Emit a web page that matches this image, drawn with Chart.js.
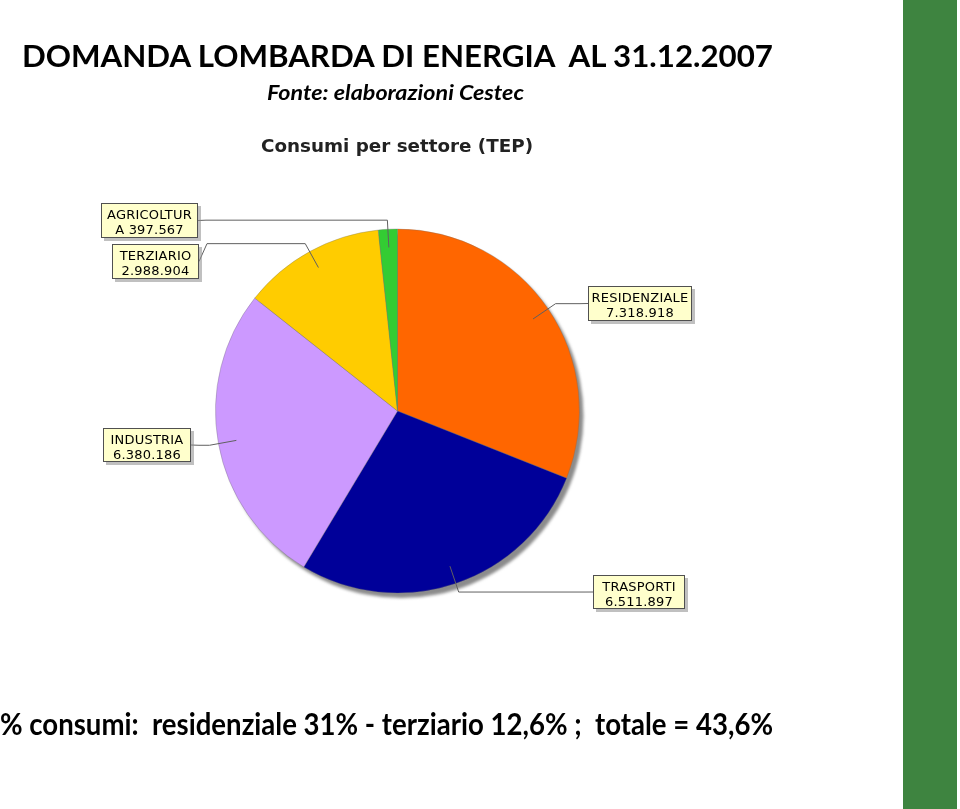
<!DOCTYPE html>
<html>
<head>
<meta charset="utf-8">
<script src="https://cdn.jsdelivr.net/npm/chart.js@4.4.1/dist/chart.umd.min.js"></script>
<style>
html,body{margin:0;padding:0;background:#fff;width:960px;height:809px;overflow:hidden;position:relative}
#c{position:absolute;left:0;top:0}
.t{position:absolute;white-space:nowrap;line-height:1;transform-origin:0 0;color:#000}
#bar{position:absolute;left:903px;top:0;width:54px;height:809px;background:#3e8440}
</style>
</head>
<body>
<canvas id="c" width="960" height="809"></canvas>
<div id="title" class="t" style="left:22px;top:36px;font:bold 31px Lato,'Liberation Sans',sans-serif">DOMANDA LOMBARDA DI ENERGIA&nbsp; AL 31.12.2007</div>
<div id="sub" class="t" style="left:267px;top:79px;font:italic bold 21px Lato,'Liberation Sans',sans-serif">Fonte: elaborazioni Cestec</div>
<div id="ctitle" class="t" style="left:261px;top:135px;font:bold 18px 'DejaVu Sans',sans-serif;color:#222">Consumi per settore (TEP)</div>
<div id="foot" class="t" style="left:0px;top:705px;font:bold 30px Lato,'Liberation Sans',sans-serif">% consumi:&nbsp; residenziale 31% - terziario 12,6% ;&nbsp; totale = 43,6%</div>
<div id="bar"></div>
<script>
// ---- data ----
const categories = ['RESIDENZIALE', 'TRASPORTI', 'INDUSTRIA', 'TERZIARIO', 'AGRICOLTURA'];
const consumi = [7318918, 6511897, 6380186, 2988904, 397567];

// ---- styles / layout ----
const sliceColors = ['#ff6600', '#000099', '#cc99ff', '#ffcc00', '#33cc33'];
const labelBoxes = [
  {x: 588, y: 286, w: 104, h: 35},
  {x: 593, y: 575, w: 92, h: 34},
  {x: 103, y: 428, w: 88, h: 34},
  {x: 112, y: 244, w: 87, h: 35},
  {x: 101, y: 203, w: 97, h: 35, wrapAt: 10}
];

function fmt(v) { return String(v).replace(/\B(?=(\d{3})+(?!\d))/g, '.'); }

function fit(id, target) {
  const el = document.getElementById(id);
  const w = el.getBoundingClientRect().width;
  el.style.transform = 'scaleX(' + (target / w) + ')';
}
fit('title', 751);
fit('sub', 257);
fit('ctitle', 272);
fit('foot', 773);

const shadowPlugin = {
  id: 'pieShadow',
  beforeDatasetsDraw(chart) {
    const arc = chart.getDatasetMeta(0).data[0];
    if (!arc) return;
    const ctx = chart.ctx;
    ctx.save();
    ctx.filter = 'blur(1.5px)';
    ctx.fillStyle = '#8c8c8c';
    ctx.beginPath();
    ctx.arc(arc.x + 4, arc.y + 5, arc.outerRadius, 0, Math.PI * 2);
    ctx.fill();
    ctx.restore();
  }
};

const calloutPlugin = {
  id: 'callouts',
  afterDatasetsDraw(chart) {
    const ctx = chart.ctx;
    const meta = chart.getDatasetMeta(0);
    meta.data.forEach((arc, i) => {
      const b = labelBoxes[i];
      const mid = (arc.startAngle + arc.endAngle) / 2;
      const r = arc.outerRadius;
      const ax = arc.x + Math.cos(mid) * r * 0.9, ay = arc.y + Math.sin(mid) * r * 0.9;
      const ex = arc.x + Math.cos(mid) * r * 1.05, ey = arc.y + Math.sin(mid) * r * 1.05;
      const right = (b.x + b.w / 2) > arc.x;
      const bx = right ? b.x : b.x + b.w;
      const hx = right ? bx - 8 : bx + 8;
      const by = b.y + b.h / 2;
      ctx.save();
      ctx.strokeStyle = '#606060';
      ctx.lineWidth = 1;
      ctx.beginPath();
      ctx.moveTo(ax, ay);
      ctx.lineTo(ex, ey);
      ctx.lineTo(hx, ey);
      ctx.lineTo(bx, by);
      ctx.stroke();
      // box shadow
      ctx.fillStyle = 'rgba(140,140,140,0.55)';
      ctx.fillRect(b.x + 3, b.y + 3, b.w, b.h);
      ctx.fillStyle = '#ffffcc';
      ctx.fillRect(b.x, b.y, b.w, b.h);
      ctx.strokeStyle = '#505050';
      ctx.strokeRect(b.x + 0.5, b.y + 0.5, b.w - 1, b.h - 1);
      // text
      const full = categories[i] + ' ' + fmt(consumi[i]);
      let lines;
      if (b.wrapAt) lines = [full.slice(0, b.wrapAt), full.slice(b.wrapAt)];
      else lines = [categories[i], fmt(consumi[i])];
      ctx.fillStyle = '#000';
      ctx.font = '13px "DejaVu Sans", Verdana, sans-serif';
      ctx.textAlign = 'center';
      ctx.textBaseline = 'alphabetic';
      try { ctx.letterSpacing = '0.2px'; } catch (e) {}
      ctx.fillText(lines[0], b.x + b.w / 2, b.y + 16);
      ctx.fillText(lines[1], b.x + b.w / 2, b.y + 31);
      ctx.restore();
    });
  }
};

new Chart(document.getElementById('c'), {
  type: 'pie',
  data: {
    labels: categories,
    datasets: [{
      data: consumi,
      backgroundColor: sliceColors,
      borderColor: 'rgba(110,110,110,0.55)',
      borderWidth: 0.6,
      hoverOffset: 0
    }]
  },
  options: {
    responsive: false,
    animation: false,
    radius: 182,
    layout: {padding: {left: 215, right: 380, top: 229, bottom: 216}},
    plugins: {legend: {display: false}, tooltip: {enabled: false}, title: {display: false}}
  },
  plugins: [shadowPlugin, calloutPlugin]
});
</script>
</body>
</html>
